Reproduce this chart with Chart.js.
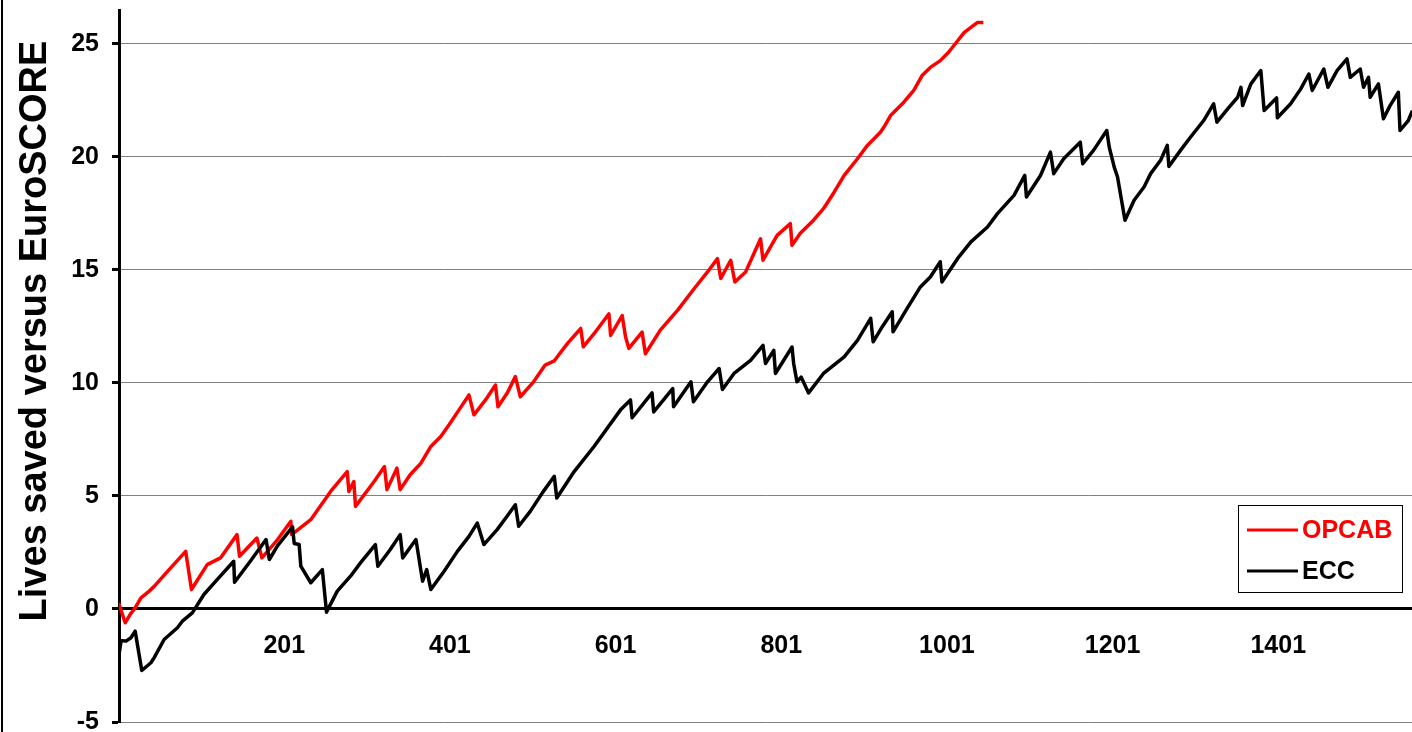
<!DOCTYPE html>
<html>
<head>
<meta charset="utf-8">
<title>Lives saved versus EuroSCORE</title>
<script src="https://cdn.jsdelivr.net/npm/chart.js@4.4.1/dist/chart.umd.min.js"></script>
<style>
  html, body { margin: 0; padding: 0; background: #fff; }
  #wrap { width: 1412px; height: 732px; }
</style>
</head>
<body>
<div id="wrap"><canvas id="vlad" width="1412" height="732"></canvas></div>
<script>
const FONT = '"Liberation Sans", Arial, Helvetica, sans-serif';

// Cumulative lives saved against EuroSCORE prediction, by consecutive case number.
// Only the turning points of each trace are listed; the line joins them.
const opcabCase = [
  1, 9, 15, 21, 28, 38, 44, 62, 82, 89, 108, 124, 144, 147, 168, 174, 193, 209, 210, 233,
  257, 277, 279, 285, 287, 305, 311, 322, 325, 337, 341, 353, 366, 378, 390, 400, 412, 424, 430, 444,
  456, 459, 470, 480, 486, 502, 516, 527, 543, 559, 562, 575, 593, 595, 609, 613, 617, 633, 637, 655,
  676, 696, 712, 724, 728, 740, 745, 758, 776, 779, 796, 812, 814, 824, 840, 852, 865, 877, 893, 905,
  921, 925, 933, 949, 961, 971, 981, 993, 1003, 1014, 1022, 1030, 1038, 1045
];
const opcabLives = [
  0.27, -0.61, -0.24, 0.05, 0.49, 0.79, 1.0, 1.74, 2.55, 0.86, 1.96, 2.26, 3.29, 2.33, 3.14, 2.26, 3.07, 3.88, 3.29, 3.95,
  5.2, 6.08, 5.2, 5.64, 4.54, 5.42, 5.72, 6.3, 5.28, 6.23, 5.28, 5.94, 6.45, 7.19, 7.63, 8.15, 8.81, 9.47, 8.59, 9.25,
  9.91, 8.95, 9.54, 10.28, 9.39, 10.05, 10.79, 10.98, 11.75, 12.41, 11.6, 12.18, 13.06, 12.1, 12.98, 12.04, 11.53, 12.25, 11.29, 12.34,
  13.22, 14.18, 14.91, 15.5, 14.62, 15.43, 14.47, 14.91, 16.38, 15.43, 16.53, 17.05, 16.09, 16.62, 17.2, 17.71, 18.45, 19.18, 19.92, 20.51,
  21.1, 21.32, 21.83, 22.42, 22.94, 23.6, 23.96, 24.26, 24.63, 25.14, 25.51, 25.73, 25.95, 25.95
];

const eccCase = [
  1, 2, 4, 10, 16, 21, 29, 40, 44, 56, 72, 78, 90, 104, 120, 140, 141, 160, 179, 183,
  193, 211, 213, 219, 221, 233, 247, 252, 265, 281, 293, 311, 314, 329, 341, 344, 360, 368, 373, 378,
  394, 410, 424, 434, 442, 458, 470, 480, 484, 498, 513, 527, 530, 551, 575, 607, 619, 621, 645, 647,
  670, 671, 692, 695, 712, 726, 730, 744, 764, 779, 782, 792, 794, 814, 816, 820, 825, 834, 852, 877,
  893, 909, 912, 923, 935, 936, 953, 969, 981, 993, 995, 1014, 1030, 1050, 1062, 1082, 1095, 1097, 1114, 1126,
  1130, 1142, 1162, 1165, 1178, 1194, 1197, 1201, 1203, 1207, 1216, 1227, 1239, 1247, 1259, 1267, 1269, 1283, 1295, 1311,
  1323, 1327, 1340, 1352, 1356, 1358, 1368, 1380, 1384, 1399, 1400, 1416, 1428, 1438, 1442, 1456, 1461, 1472, 1484, 1488,
  1500, 1504, 1510, 1512, 1522, 1528, 1536, 1546, 1548, 1558, 1563
];
const eccLives = [
  -1.1, -1.9, -1.4, -1.42, -1.27, -0.98, -2.72, -2.38, -2.15, -1.35, -0.83, -0.54, -0.17, 0.64, 1.3, 2.11, 1.18, 2.11, 3.07, 2.19,
  2.8, 3.63, 2.9, 2.85, 1.9, 1.16, 1.74, -0.14, 0.79, 1.45, 2.04, 2.85, 1.89, 2.63, 3.29, 2.26, 3.07, 1.23, 1.74, 0.86,
  1.67, 2.55, 3.21, 3.8, 2.85, 3.51, 4.1, 4.61, 3.66, 4.32, 5.16, 5.87, 4.91, 6.08, 7.19, 8.81, 9.25, 8.46, 9.56, 8.72,
  9.75, 8.95, 10.05, 9.17, 10.05, 10.64, 9.71, 10.42, 11.0, 11.66, 10.86, 11.44, 10.42, 11.59, 10.86, 10.05, 10.26, 9.56, 10.42, 11.15,
  11.88, 12.86, 11.82, 12.49, 13.15, 12.26, 13.3, 14.25, 14.69, 15.36, 14.47, 15.51, 16.24, 16.9, 17.49, 18.3, 19.18, 18.23, 19.18, 20.21,
  19.26, 19.92, 20.65, 19.7, 20.29, 21.17, 20.43, 19.85, 19.55, 19.11, 17.2, 18.08, 18.67, 19.26, 19.85, 20.51, 19.58, 20.29, 20.87, 21.61,
  22.35, 21.54, 22.13, 22.64, 23.08, 22.27, 23.23, 23.82, 22.05, 22.61, 21.73, 22.35, 23.0, 23.67, 22.94, 23.89, 23.08, 23.82, 24.34, 23.52,
  23.89, 23.08, 23.52, 22.64, 23.23, 21.69, 22.27, 22.86, 21.17, 21.61, 22.05
];

const xTicks = [201, 401, 601, 801, 1001, 1201, 1401];
const yTicks = [-5, 0, 5, 10, 15, 20, 25];

const toPoints = (xs, ys) => xs.map((x, i) => ({ x: x, y: ys[i] }));

// axis caption, left frame and the boxed legend are painted straight onto the canvas
const decorations = {
  id: 'decorations',
  afterDraw(chart) {
    const ctx = chart.ctx;
    ctx.save();
    ctx.fillStyle = '#000';
    ctx.fillRect(1, 0, 2, chart.height);

    ctx.translate(36, 331);
    ctx.rotate(-Math.PI / 2);
    ctx.font = 'bold 38px ' + FONT;
    ctx.textAlign = 'center';
    ctx.textBaseline = 'middle';
    ctx.fillText('Lives saved versus EuroSCORE', 0, 0);
    ctx.restore();

    ctx.save();
    const bx = 1238.5, by = 505.5, bw = 164, bh = 87;
    ctx.fillStyle = '#fff';
    ctx.fillRect(bx, by, bw, bh);
    ctx.strokeStyle = '#000';
    ctx.lineWidth = 1;
    ctx.strokeRect(bx, by, bw, bh);
    ctx.font = 'bold 25px ' + FONT;
    ctx.textBaseline = 'middle';
    ctx.textAlign = 'left';
    chart.data.datasets.forEach((ds, i) => {
      const y = 530 + i * 41;
      ctx.strokeStyle = ds.borderColor;
      ctx.lineWidth = 3;
      ctx.beginPath();
      ctx.moveTo(1247, y);
      ctx.lineTo(1298, y);
      ctx.stroke();
      ctx.fillStyle = ds.borderColor;
      ctx.fillText(ds.label, 1302, y + 1);
    });
    ctx.restore();
  }
};

const tickFont = { family: FONT, size: 25, weight: 'bold' };

// keep the plot frame fixed: no extra room reserved for half-labels at the ends
const noEndPadding = s => {
  s.paddingTop = 0;
  s.paddingBottom = 0;
  s.paddingLeft = 0;
  s.paddingRight = 0;
};

new Chart(document.getElementById('vlad'), {
  type: 'line',
  data: {
    datasets: [
      {
        label: 'OPCAB',
        data: toPoints(opcabCase, opcabLives),
        borderColor: '#ff0000',
        borderWidth: 3.5,
        pointRadius: 0,
        tension: 0,
        borderJoinStyle: 'round',
        order: 1
      },
      {
        label: 'ECC',
        data: toPoints(eccCase, eccLives),
        borderColor: '#000000',
        borderWidth: 3.5,
        pointRadius: 0,
        tension: 0,
        borderJoinStyle: 'round',
        order: 0
      }
    ]
  },
  options: {
    responsive: false,
    animation: false,
    devicePixelRatio: 1,
    layout: { padding: { top: 10, bottom: 10, left: 0, right: 0 } },
    plugins: {
      legend: { display: false },
      tooltip: { enabled: false }
    },
    scales: {
      x: {
        type: 'linear',
        position: { y: 0 },
        min: 1.5,
        max: 1562.5,
        afterBuildTicks: s => { s.ticks = xTicks.map(v => ({ value: v })); },
        afterFit: noEndPadding,
        grid: { display: false, drawTicks: false },
        border: { color: '#000', width: 3 },
        ticks: {
          color: '#000',
          font: tickFont,
          padding: 22,
          maxRotation: 0,
          autoSkip: false,
          callback: v => String(v)
        }
      },
      y: {
        min: -5,
        max: 26.5,
        afterBuildTicks: s => { s.ticks = yTicks.map(v => ({ value: v })); },
        afterFit: s => { noEndPadding(s); s.width = 119; },
        grid: {
          color: c => (c.tick && c.tick.value === 0 ? 'rgba(0,0,0,0)' : '#808080'),
          lineWidth: 1,
          tickColor: '#000',
          tickLength: 7,
          tickWidth: 3
        },
        border: { color: '#000', width: 3 },
        ticks: { color: '#000', font: tickFont, padding: 13, callback: v => String(v) }
      }
    }
  },
  plugins: [decorations]
});
</script>
</body>
</html>
